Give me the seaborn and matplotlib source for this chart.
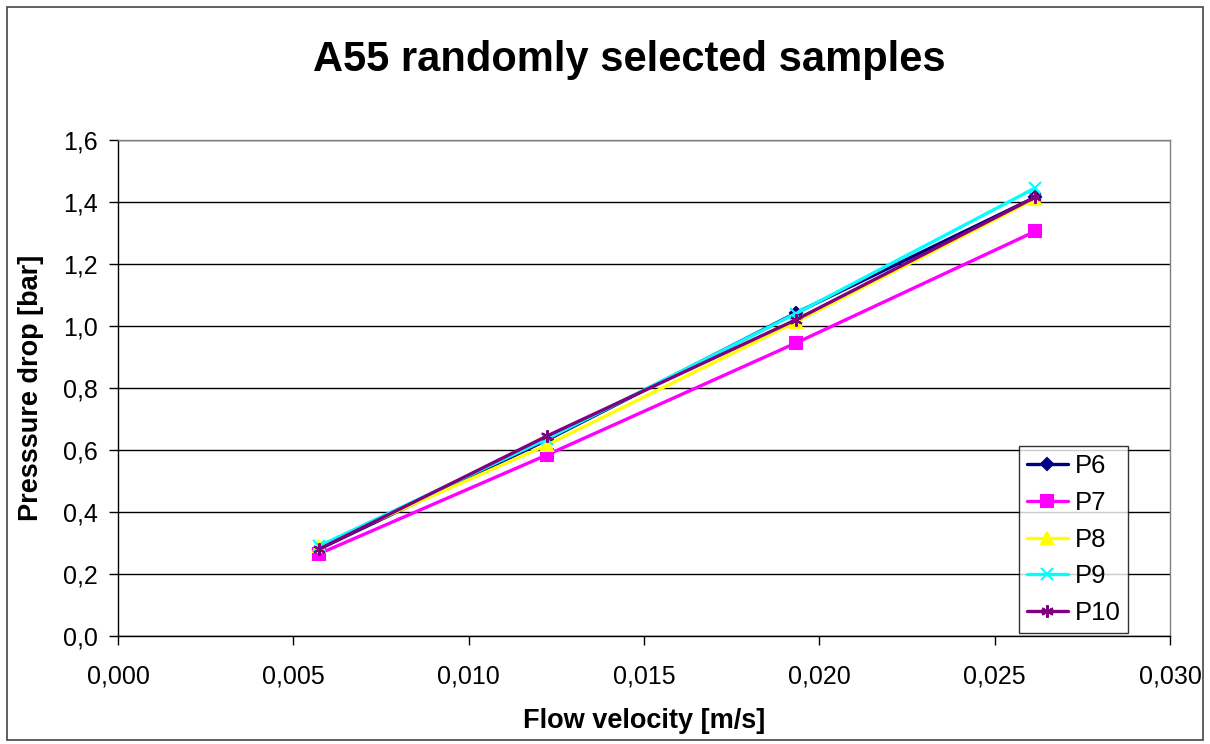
import matplotlib
matplotlib.use("Agg")
import matplotlib.pyplot as plt
import seaborn as sns
import pandas as pd
from matplotlib.ticker import FuncFormatter, MultipleLocator
from matplotlib.patches import Rectangle
from matplotlib.lines import Line2D

velocity = [0.00573, 0.01223, 0.01933, 0.02615]
series_names = ["P6", "P7", "P8", "P9", "P10"]
p6 = [0.28, 0.632, 1.042, 1.415]
p7 = [0.265, 0.584, 0.945, 1.305]
p8 = [0.29, 0.616, 1.013, 1.41]
p9 = [0.29, 0.636, 1.04, 1.445]
p10 = [0.28, 0.645, 1.02, 1.415]
values = [p6, p7, p8, p9, p10]

colors = {"P6": "#000080", "P7": "#FF00FF", "P8": "#FFFF00", "P9": "#00FFFF", "P10": "#800080"}
markers = {"P6": "D", "P7": "s", "P8": "^", "P9": "x", "P10": (6, 2, 0)}
msizes = {"P6": 6, "P7": 8, "P8": 8, "P9": 8, "P10": 9}

rows = []
for name, vals in zip(series_names, values):
    for x, y in zip(velocity, vals):
        rows.append({"series": name, "velocity": x, "pressure": y})
df = pd.DataFrame(rows)

sns.set_theme(style="white")
plt.rcParams["font.family"] = ["Liberation Sans", "DejaVu Sans"]
plt.rcParams["text.color"] = "black"
plt.rcParams["axes.labelcolor"] = "black"

fig = plt.figure(figsize=(12.1, 7.44), dpi=100)
ax = fig.add_axes([118/1210, 1-636/744, (1170-118)/1210, (636-140)/744])

for name in series_names:
    sub = df[df["series"] == name]
    sns.lineplot(data=sub, x="velocity", y="pressure", ax=ax, color=colors[name],
                 linewidth=2.4, marker=markers[name], markersize=msizes[name],
                 markeredgecolor=colors[name], markerfacecolor=colors[name],
                 markeredgewidth=1.5, label=name, legend=False, zorder=3)

ax.set_xlim(0, 0.030)
ax.set_ylim(0, 1.6)
ax.xaxis.set_major_locator(MultipleLocator(0.005))
ax.yaxis.set_major_locator(MultipleLocator(0.2))
ax.xaxis.set_major_formatter(FuncFormatter(lambda v, p: f"{v:.3f}".replace(".", ",")))
ax.yaxis.set_major_formatter(FuncFormatter(lambda v, p: f"{v:.1f}".replace(".", ",")))
ax.yaxis.grid(True, color="#000000", linewidth=1.0)
ax.set_axisbelow(True)
for s in ["left", "bottom"]:
    ax.spines[s].set_color("#000000")
    ax.spines[s].set_linewidth(1.0)
for s in ["top", "right"]:
    ax.spines[s].set_color("#808080")
    ax.spines[s].set_linewidth(1.0)
ax.tick_params(axis="both", which="major", direction="out", length=6.5, width=1,
               color="#000000", labelsize=18, labelcolor="#000000", bottom=True, left=True)
ax.tick_params(axis="x", pad=14)
ax.tick_params(axis="y", pad=8)

ax.set_xlabel("Flow velocity [m/s]", fontsize=19.5, fontweight="bold")
ax.set_ylabel("Presssure drop [bar]", fontsize=19.5, fontweight="bold")
ax.xaxis.set_label_coords(0.5, (636-708)/496)
ax.yaxis.set_label_coords((44-118)/1052, 0.5)
fig.text(629/1210, 1-60/744, "A55 randomly selected samples", ha="center", va="center",
         fontsize=30, fontweight="bold", color="black")

handles = [Line2D([0], [0], color=colors[n], linewidth=2.4, marker=markers[n],
                  markersize=msizes[n], markerfacecolor=colors[n], markeredgecolor=colors[n],
                  markeredgewidth=1.5) for n in series_names]
leg = ax.legend(handles, series_names, loc="lower right", bbox_to_anchor=(1128/1210, 1-633/744),
                bbox_transform=fig.transFigure, fontsize=18.5, frameon=True, fancybox=False,
                handlelength=1.6, handletextpad=0.25, labelspacing=0.5, borderpad=0.3,
                borderaxespad=0)
leg.get_frame().set_edgecolor("#000000")
leg.get_frame().set_linewidth(1.0)
for t in leg.get_texts():
    t.set_color("black")

fig.patches.append(Rectangle((7/1210, 1-740/744), 1196/1210, 733/744, transform=fig.transFigure,
                             fill=False, edgecolor="#444444", linewidth=1.2))

fig.savefig("out.png", dpi=100)
